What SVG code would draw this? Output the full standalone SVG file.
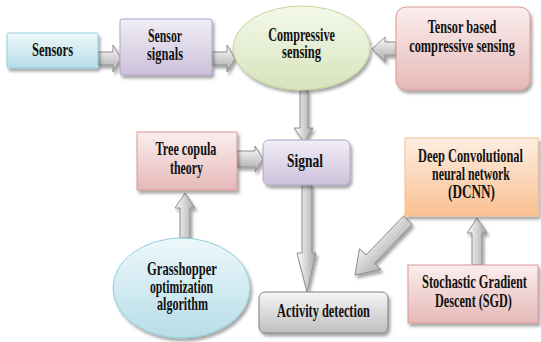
<svg xmlns="http://www.w3.org/2000/svg" width="541" height="342" viewBox="0 0 541 342">
<defs>
<filter id="sh" x="-10%" y="-10%" width="130%" height="140%">
<feDropShadow dx="2" dy="3" stdDeviation="1.6" flood-color="#000" flood-opacity="0.35"/>
</filter>
<linearGradient id="gBlue" x1="0" y1="0" x2="0" y2="1"><stop offset="0" stop-color="#eef8fb"/><stop offset="1" stop-color="#b6dde8"/></linearGradient>
<linearGradient id="gLav" x1="0" y1="0" x2="0" y2="1"><stop offset="0" stop-color="#f1eef6"/><stop offset="1" stop-color="#ccc1da"/></linearGradient>
<linearGradient id="gGreen" x1="0" y1="0" x2="0" y2="1"><stop offset="0" stop-color="#f4f8ea"/><stop offset="1" stop-color="#d7e4bd"/></linearGradient>
<linearGradient id="gPink" x1="0" y1="0" x2="0" y2="1"><stop offset="0" stop-color="#fbeeee"/><stop offset="1" stop-color="#e6b9b8"/></linearGradient>
<linearGradient id="gGray" x1="0" y1="0" x2="0" y2="1"><stop offset="0" stop-color="#f6f6f6"/><stop offset="1" stop-color="#bfbfbf"/></linearGradient>
<linearGradient id="gPeach" x1="0" y1="0" x2="0" y2="1"><stop offset="0" stop-color="#fdeee2"/><stop offset="1" stop-color="#fac090"/></linearGradient>
<linearGradient id="aH" x1="0" y1="0" x2="0" y2="1"><stop offset="0" stop-color="#ffffff"/><stop offset="1" stop-color="#a6a6a6"/></linearGradient>
<linearGradient id="aV" x1="0" y1="0" x2="1" y2="0"><stop offset="0" stop-color="#ffffff"/><stop offset="1" stop-color="#a6a6a6"/></linearGradient>
<linearGradient id="aD" x1="0" y1="0" x2="1" y2="1"><stop offset="0.3" stop-color="#f4f4f4"/><stop offset="0.8" stop-color="#9a9a9a"/></linearGradient>
</defs>
<style>
text{font-family:"Liberation Serif","Times New Roman",serif;font-weight:bold;font-size:18px;fill:#111;text-anchor:middle}
.arr{stroke:#8c8c8c;stroke-width:1;filter:url(#sh)}
.box{filter:url(#sh)}
</style>
<g id="connectors">
<path class="arr" fill="url(#aH)" d="M98,52 H113 V45 L121,58.5 L113,72 V65 H98 Z"/>
<path class="arr" fill="url(#aH)" d="M212,52 H227 V45 L235,58.5 L227,72 V65 H212 Z"/>
<path class="arr" fill="url(#aH)" d="M396,42 H385 V37 L372,49 L385,62 V55 H396 Z"/>
<path class="arr" fill="url(#aV)" d="M300,90 V128 H294 L304,142 L313,128 H308 V90 Z"/>
<path class="arr" fill="url(#aH)" d="M237,151 H255 V146 L263,159 L255,172 V167 H237 Z"/>
<path class="arr" fill="url(#aV)" d="M180,238 V208 H175 L185,193 L195,208 H190 V238 Z"/>
<path class="arr" fill="url(#aV)" d="M302,185 V253 H297 L307,292 L316,253 H312 V185 Z"/>
<path class="arr" fill="url(#aV)" d="M472,265 V233 H467 L477,218 L487,233 H482 V265 Z"/>
<path class="arr" fill="url(#aD)" d="M403.7,215.8 L412.3,224.2 L374.6,263.4 L381.1,269.6 L355,275 L359.5,248.8 L366,255 Z"/>
</g>
<g id="sensors">
<rect class="box" x="7" y="33" width="91" height="35" rx="1.5" fill="url(#gBlue)" stroke="#93cddd"/>
<text transform="translate(52.5,56) scale(0.695,1)">Sensors</text>
</g>
<g id="sensor-signals">
<rect class="box" x="120" y="19" width="92" height="56" rx="2" fill="url(#gLav)" stroke="#b3a2c7"/>
<text transform="translate(165,42) scale(0.654,1)">Sensor</text>
<text transform="translate(165,60) scale(0.692,1)">signals</text>
</g>
<g id="compressive-sensing">
<ellipse class="box" cx="301.5" cy="48" rx="68.5" ry="42" fill="url(#gGreen)" stroke="#c3d69b"/>
<text transform="translate(301.5,41) scale(0.677,1)">Compressive</text>
<text transform="translate(301.5,58) scale(0.696,1)">sensing</text>
</g>
<g id="tensor">
<rect class="box" x="396" y="7" width="134" height="83" rx="10" fill="url(#gPink)" stroke="#d99694"/>
<text transform="translate(462,33) scale(0.683,1)">Tensor based</text>
<text transform="translate(462,52) scale(0.686,1)">compressive sensing</text>
</g>
<g id="tree-copula">
<rect class="box" x="137" y="132" width="100" height="58" fill="url(#gPink)" stroke="#d99694"/>
<text transform="translate(186,155) scale(0.678,1)">Tree copula</text>
<text transform="translate(186.5,174) scale(0.66,1)">theory</text>
</g>
<g id="signal">
<rect class="box" x="263" y="140" width="87" height="45" rx="6" fill="url(#gLav)" stroke="#b3a2c7"/>
<text transform="translate(305,167) scale(0.75,1)">Signal</text>
</g>
<g id="grasshopper">
<ellipse class="box" cx="181.5" cy="288" rx="68.5" ry="50" fill="url(#gBlue)" stroke="#93cddd"/>
<text transform="translate(182,275) scale(0.7,1)">Grasshopper</text>
<text transform="translate(181.5,293) scale(0.65,1)">optimization</text>
<text transform="translate(182.5,310) scale(0.671,1)">algorithm</text>
</g>
<g id="activity-detection">
<rect class="box" x="259" y="292" width="129" height="41" rx="6" fill="url(#gGray)" stroke="#7f7f7f"/>
<text transform="translate(323.5,317) scale(0.686,1)">Activity detection</text>
</g>
<g id="dcnn">
<rect class="box" x="405" y="138" width="133" height="78" fill="url(#gPeach)" stroke="#fac090"/>
<text transform="translate(470.5,162) scale(0.689,1)">Deep Convolutional</text>
<text transform="translate(471,180) scale(0.658,1)">neural network</text>
<text transform="translate(471.5,198) scale(0.734,1)">(DCNN)</text>
</g>
<g id="sgd">
<rect class="box" x="408" y="265" width="130" height="58" fill="url(#gPink)" stroke="#d99694"/>
<text transform="translate(474.5,288) scale(0.689,1)">Stochastic Gradient</text>
<text transform="translate(473.5,307) scale(0.678,1)">Descent (SGD)</text>
</g>
</svg>
